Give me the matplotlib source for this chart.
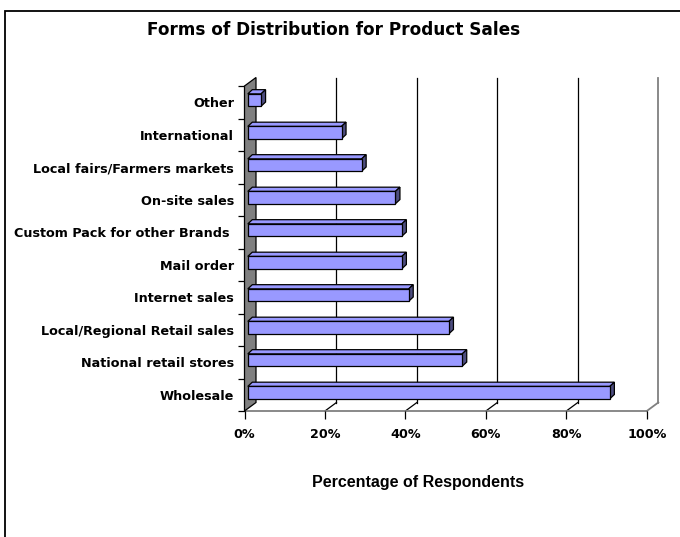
import matplotlib
matplotlib.use("Agg")
import matplotlib.pyplot as plt
import numpy as np
from matplotlib.patches import Polygon, Rectangle

# Survey results (share of respondents using each channel), bottom to top
categories = [
    "Wholesale",
    "National retail stores",
    "Local/Regional Retail sales",
    "Internet sales",
    "Mail order",
    "Custom Pack for other Brands ",
    "On-site sales",
    "Local fairs/Farmers markets",
    "International",
    "Other",
]
percent = [90.0, 53.3, 50.0, 40.0, 38.3, 38.3, 36.7, 28.3, 23.3, 3.3]
x_ticks = [0, 20, 40, 60, 80, 100]
x_tick_labels = ["0%", "20%", "40%", "60%", "80%", "100%"]

title = "Forms of Distribution for Product Sales"
x_label = "Percentage of Respondents"

W, H, DPI = 680, 537, 100
fig = plt.figure(figsize=(W / DPI, H / DPI), dpi=DPI)
fig.patch.set_facecolor("white")

# front plane of the pseudo-3D plot area, in pixels
left, right, top, bottom = 244.5, 646.8, 86.0, 411.0
ax = fig.add_axes([left / W, 1 - bottom / H, (right - left) / W, (bottom - top) / H])
n = len(categories)
ylo, yhi = -0.5, n - 0.5
ax.set_xlim(0, 100)
ax.set_ylim(ylo, yhi)
ax.patch.set_visible(False)
for s in ax.spines.values():
    s.set_visible(False)

ux = (right - left) / 100.0   # pixels per percent
uy = (bottom - top) / n       # pixels per category


def depth(px, py):
    """Convert a pixel depth shift into data units."""
    return px / ux, py / uy


DX, DY = depth(11.5, 8.5)      # full depth of the plot box
FX, FY = depth(3.3, 2.2)       # front face of bars
BX, BY = depth(7.8, 6.4)       # back face of bars
half_h = 0.19

# side wall
wall = Polygon([(0, ylo), (0, yhi), (DX, yhi + DY), (DX, ylo + DY)], closed=True,
               facecolor="#808080", edgecolor="black", lw=0.9, zorder=2, clip_on=False)
ax.add_patch(wall)

# back-wall gridlines and floor lines
for t in x_ticks[1:-1]:
    ax.plot([t + DX, t + DX], [ylo + DY, yhi + DY], color="black", lw=0.9, zorder=1, clip_on=False)
    ax.plot([t, t + DX], [ylo, ylo + DY], color="black", lw=0.9, zorder=1, clip_on=False)
ax.plot([100 + DX, 100 + DX], [ylo + DY, yhi + DY], color="#808080", lw=1.3, zorder=1, clip_on=False)
ax.plot([100, 100 + DX], [ylo, ylo + DY], color="#808080", lw=1.3, zorder=1, clip_on=False)
ax.plot([0, 100], [ylo, ylo], color="#808080", lw=1.3, zorder=1, clip_on=False)

# bars
front_c, top_c, side_c = "#9999FF", "#9999FF", "#4D4D80"
for i, v in enumerate(percent):
    y0 = i - half_h
    y1 = i + half_h
    topf = Polygon([(FX, y1 + FY), (FX + v, y1 + FY), (BX + v, y1 + BY), (BX, y1 + BY)],
                   closed=True, facecolor=top_c, edgecolor="black", lw=0.9, zorder=3, clip_on=False)
    side = Polygon([(FX + v, y0 + FY), (FX + v, y1 + FY), (BX + v, y1 + BY), (BX + v, y0 + BY)],
                   closed=True, facecolor=side_c, edgecolor="black", lw=0.9, zorder=3, clip_on=False)
    front = Rectangle((FX, y0 + FY), v, y1 - y0, facecolor=front_c, edgecolor="black",
                      lw=0.9, zorder=4, clip_on=False)
    ax.add_patch(topf)
    ax.add_patch(side)
    ax.add_patch(front)

# y axis: tick marks between categories, labels at centres
ax.set_yticks(np.arange(n + 1) - 0.5)
ax.set_yticklabels([])
ax.set_yticks(np.arange(n), minor=True)
ax.set_yticklabels(categories, minor=True, fontsize=9.2, fontweight="bold",
                   fontfamily="DejaVu Sans")
ax.tick_params(axis="y", which="major", length=5, width=0.9, color="black", direction="out")
ax.tick_params(axis="y", which="minor", length=0, pad=7.5)

# x axis
ax.set_xticks(x_ticks)
ax.set_xticklabels(x_tick_labels, fontsize=9.2, fontweight="bold", fontfamily="DejaVu Sans")
ax.tick_params(axis="x", which="major", length=6, width=0.9, color="black",
               direction="out", pad=6)

fig.text(418 / W, 1 - 483 / H, x_label, ha="center", va="center",
         fontsize=11.5, fontweight="bold", fontfamily="Liberation Sans")
fig.text(334 / W, 1 - 30 / H, title, ha="center", va="center",
         fontsize=12.2, fontweight="heavy", fontfamily="DejaVu Sans")

# chart-area border
fig.add_artist(Rectangle((5 / W, -0.5), 2.0, 1.5 - 11 / H, transform=fig.transFigure,
                         fill=False, edgecolor="black", lw=1.3))

fig.savefig("out.png", dpi=DPI)
